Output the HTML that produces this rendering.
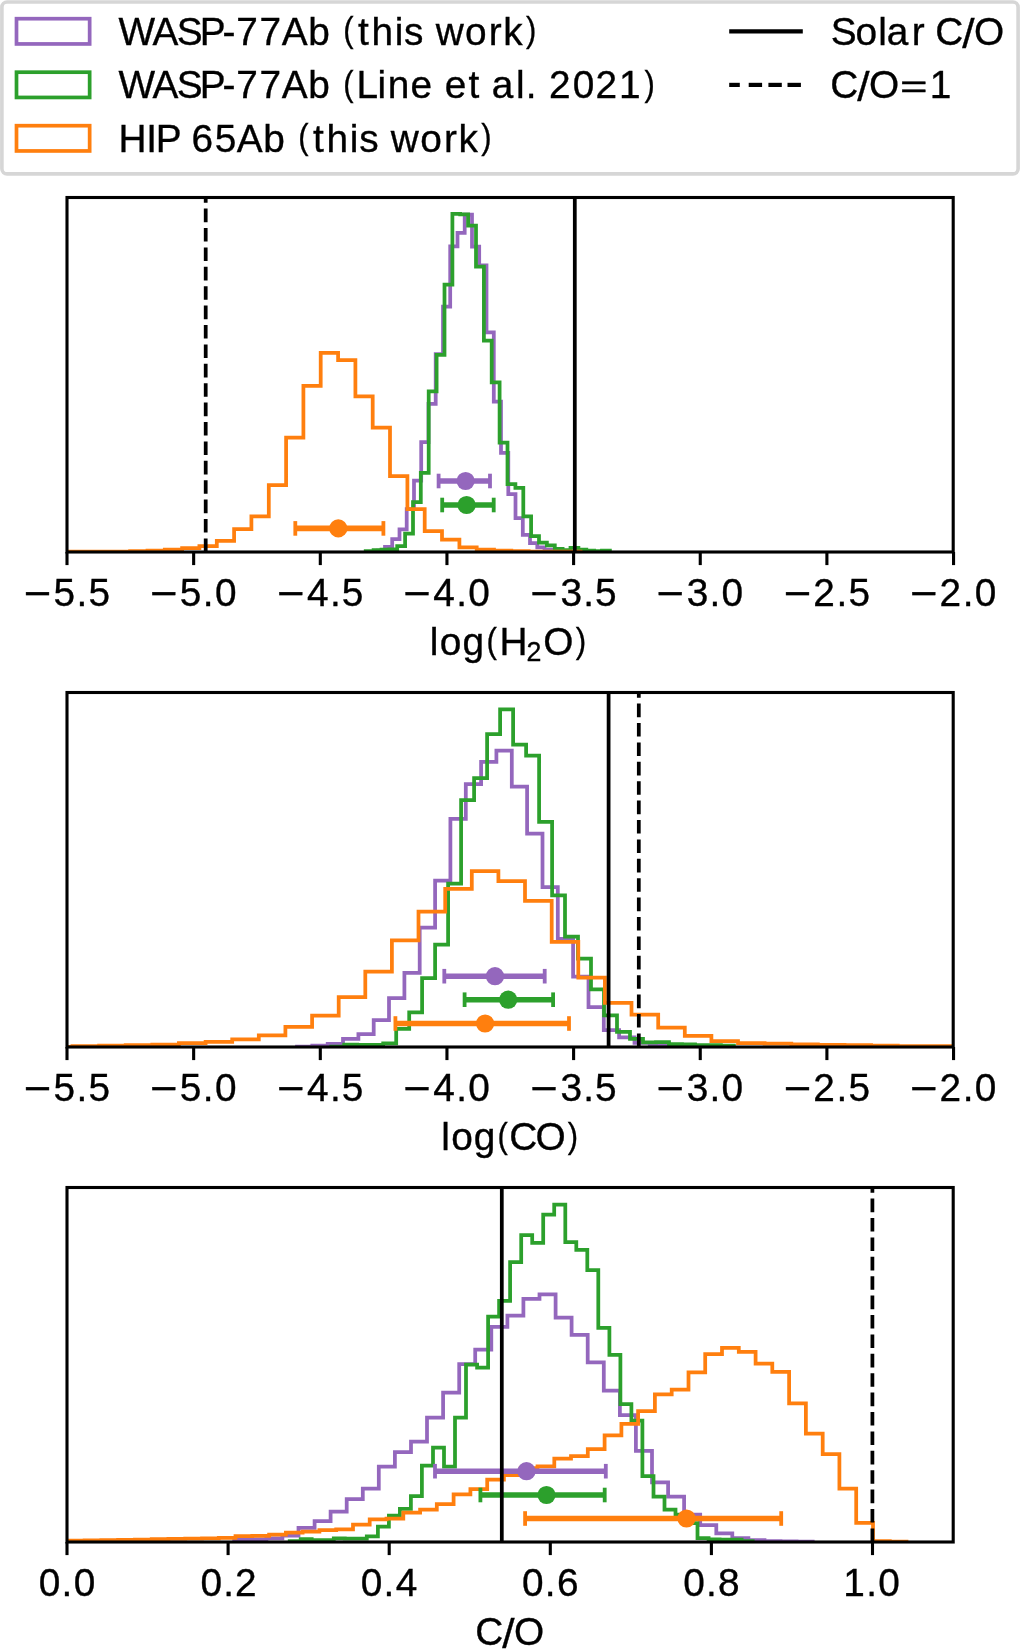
<!DOCTYPE html><html><head><meta charset="utf-8"><title>Histograms</title><style>html,body{margin:0;padding:0;background:#fff;}svg{display:block;will-change:transform;}text{font-family:"Liberation Sans",sans-serif;}</style></head><body><svg width="1020" height="1649" viewBox="0 0 1020 1649">
<rect width="1020" height="1649" fill="#fff"/>
<rect x="1.9" y="2.0" width="1016.2" height="171.9" rx="5.2" ry="5.2" fill="#fff" stroke="#d6d6d6" stroke-width="3.6"/>
<rect x="16.5" y="18.70" width="73.15" height="25.25" fill="none" stroke="#9467bd" stroke-width="3.7"/>
<rect x="16.5" y="72.20" width="73.15" height="25.25" fill="none" stroke="#2ca02c" stroke-width="3.7"/>
<rect x="16.5" y="125.70" width="73.15" height="25.25" fill="none" stroke="#ff7f0e" stroke-width="3.7"/>
<g font-family="Liberation Sans, sans-serif" fill="#000" stroke="#000" stroke-width="0.35">
<text font-size="38.80"><tspan x="118.42 152.40 176.74 199.79 222.49 236.32 259.61 281.69 308.21 330.39" y="44.60">WASP-77Ab </tspan><tspan x="343.25" y="42.18" font-size="34.99" textLength="10.30" lengthAdjust="spacingAndGlyphs">(</tspan><tspan x="357.99 371.49 394.64 404.11 423.09 435.66 465.07 488.81 503.27" y="44.60">this work</tspan><tspan x="526.04" y="42.18" font-size="34.99" textLength="10.30" lengthAdjust="spacingAndGlyphs">)</tspan></text>
<text font-size="38.80"><tspan x="118.42 152.40 176.74 199.79 222.49 236.32 259.61 281.69 308.21 330.39" y="98.10">WASP-77Ab </tspan><tspan x="343.25" y="95.68" font-size="34.99" textLength="10.30" lengthAdjust="spacingAndGlyphs">(</tspan><tspan x="356.46 377.49 387.75 410.60 432.58 444.76 468.42 481.08 491.75 515.92 525.72 536.95 548.94 572.71 595.51 619.08" y="98.10">Line et al. 2021</tspan><tspan x="644.47" y="95.68" font-size="34.99" textLength="10.30" lengthAdjust="spacingAndGlyphs">)</tspan></text>
<text font-size="38.80"><tspan x="118.39 146.18 155.66 179.04 191.52 214.66 236.81 263.33 285.51" y="151.60">HIP 65Ab </tspan><tspan x="298.37" y="149.18" font-size="34.99" textLength="10.30" lengthAdjust="spacingAndGlyphs">(</tspan><tspan x="313.11 326.61 349.77 359.23 378.21 390.78 420.19 443.93 458.39" y="151.60">this work</tspan><tspan x="481.16" y="149.18" font-size="34.99" textLength="10.30" lengthAdjust="spacingAndGlyphs">)</tspan></text>
<text font-size="38.80"><tspan x="830.67 855.45 878.20 886.63 911.78 925.07 935.26" y="44.60">Solar C</tspan><tspan x="962.26" y="47.60" font-size="40.96" textLength="12.33" lengthAdjust="spacingAndGlyphs">/</tspan><tspan x="973.91" y="44.60">O</tspan></text>
<text font-size="38.80"><tspan x="830.36" y="98.10">C</tspan><tspan x="857.36" y="101.10" font-size="40.96" textLength="12.33" lengthAdjust="spacingAndGlyphs">/</tspan><tspan x="869.01" y="98.10">O</tspan><tspan x="900.07" y="97.19" font-size="32.05" textLength="27.54" lengthAdjust="spacingAndGlyphs">=</tspan><tspan x="929.81" y="98.10">1</tspan></text>
</g>
<line x1="729.2" y1="31.4" x2="802.8" y2="31.4" stroke="#000" stroke-width="4.2"/>
<line x1="729.2" y1="84.9" x2="739.8" y2="84.9" stroke="#000" stroke-width="4.2"/>
<line x1="748.7" y1="84.9" x2="762.1" y2="84.9" stroke="#000" stroke-width="4.2"/>
<line x1="768.4" y1="84.9" x2="781.8" y2="84.9" stroke="#000" stroke-width="4.2"/>
<line x1="787.5" y1="84.9" x2="800.9" y2="84.9" stroke="#000" stroke-width="4.2"/>
<clipPath id="c197"><rect x="67.0" y="197.5" width="886.2" height="354.5"/></clipPath>
<g clip-path="url(#c197)" fill="none" stroke-width="3.75" stroke-linejoin="miter" stroke-linecap="butt">
<path d="M377.7,552.0V550.5H385.0V546.8H392.2V539.0H399.5V529.3H406.7V509.0H414.0V480.5H421.2V442.0H428.5V403.9H435.7V354.2H443.0V306.5H450.2V246.4H457.5V232.9H464.7V214.6H472.0V246.7H479.2V265.3H486.5V332.3H493.8V401.6H501.0V452.8H508.3V494.2H515.5V518.0H522.8V534.9H530.0V543.0H537.3V547.4H544.5V549.5H551.8V550.5H559.0V551.0H566.3V552.0" stroke="#9467bd"/>
<path d="M365.7,552.0V551.2H373.6V550.0H381.5V549.5H389.3V549.3H397.2V546.2H405.1V533.7H413.0V502.0H420.8V472.8H428.7V391.3H436.6V354.9H444.5V284.5H452.4V213.8H460.2V214.4H468.1V225.7H476.0V266.5H483.9V340.5H491.7V382.4H499.6V442.6H507.5V484.1H515.4V487.8H523.3V516.3H531.1V536.1H539.0V542.5H546.9V545.4H554.8V548.8H562.6V550.0H570.5V547.8H578.4V549.5H586.3V550.5H594.2V551.0H602.0V550.5H609.9V552.0" stroke="#2ca02c"/>
<path d="M60.8,552.0V551.6H78.2V551.6H95.5V551.6H112.8V551.6H130.1V551.0H147.5V550.5H164.8V549.5H182.1V548.2H199.4V546.0H216.8V540.8H234.1V529.2H251.4V516.3H268.8V485.0H286.1V437.5H303.4V385.9H320.7V352.9H338.1V360.2H355.4V396.3H372.7V427.6H390.0V476.2H407.4V509.0H424.7V531.0H442.0V539.6H459.4V547.4H476.7V549.5H494.0V550.5H511.3V551.2H528.7V551.5H546.0V551.5H563.3V551.5H580.6V552.0" stroke="#ff7f0e"/>
</g>
<g stroke="#9467bd" fill="#9467bd"><line x1="438.6" y1="481.0" x2="490.0" y2="481.0" stroke-width="5.6"/><line x1="438.6" y1="473.7" x2="438.6" y2="488.3" stroke-width="3.8"/><line x1="490.0" y1="473.7" x2="490.0" y2="488.3" stroke-width="3.8"/><circle cx="465.6" cy="481.0" r="9.1" stroke="none"/></g>
<g stroke="#2ca02c" fill="#2ca02c"><line x1="442.2" y1="505.0" x2="493.7" y2="505.0" stroke-width="5.6"/><line x1="442.2" y1="497.7" x2="442.2" y2="512.3" stroke-width="3.8"/><line x1="493.7" y1="497.7" x2="493.7" y2="512.3" stroke-width="3.8"/><circle cx="466.6" cy="505.0" r="9.1" stroke="none"/></g>
<g stroke="#ff7f0e" fill="#ff7f0e"><line x1="295.3" y1="528.4" x2="383.4" y2="528.4" stroke-width="5.6"/><line x1="295.3" y1="521.1" x2="295.3" y2="535.6999999999999" stroke-width="3.8"/><line x1="383.4" y1="521.1" x2="383.4" y2="535.6999999999999" stroke-width="3.8"/><circle cx="338.3" cy="528.4" r="9.1" stroke="none"/></g>
<path d="M205.7,552.0V197.5" stroke="#000" stroke-width="3.75" stroke-dasharray="13.6 5.8" fill="none"/>
<path d="M574.8,552.0V197.5" stroke="#000" stroke-width="3.75" fill="none"/>
<rect x="67.0" y="197.5" width="886.2" height="354.5" fill="none" stroke="#000" stroke-width="3.1"/>
<g stroke="#000" stroke-width="3.1">
<line x1="67.00" y1="552.0" x2="67.00" y2="565.1"/>
<line x1="193.65" y1="552.0" x2="193.65" y2="565.1"/>
<line x1="320.30" y1="552.0" x2="320.30" y2="565.1"/>
<line x1="446.95" y1="552.0" x2="446.95" y2="565.1"/>
<line x1="573.60" y1="552.0" x2="573.60" y2="565.1"/>
<line x1="700.25" y1="552.0" x2="700.25" y2="565.1"/>
<line x1="826.90" y1="552.0" x2="826.90" y2="565.1"/>
<line x1="953.55" y1="552.0" x2="953.55" y2="565.1"/>
</g>
<g font-family="Liberation Sans, sans-serif" fill="#000" stroke="#000" stroke-width="0.35">
<text font-size="38.80"><tspan x="23.78" y="608.30" font-size="42.62" textLength="27.54" lengthAdjust="spacingAndGlyphs">−</tspan><tspan x="53.59 76.59 88.51" y="605.60">5.5</tspan></text>
<text font-size="38.80"><tspan x="150.04" y="608.30" font-size="42.62" textLength="27.54" lengthAdjust="spacingAndGlyphs">−</tspan><tspan x="179.86 202.85 214.92" y="605.60">5.0</tspan></text>
<text font-size="38.80"><tspan x="277.08" y="608.30" font-size="42.62" textLength="27.54" lengthAdjust="spacingAndGlyphs">−</tspan><tspan x="307.03 329.89 341.81" y="605.60">4.5</tspan></text>
<text font-size="38.80"><tspan x="403.34" y="608.30" font-size="42.62" textLength="27.54" lengthAdjust="spacingAndGlyphs">−</tspan><tspan x="433.30 456.15 468.22" y="605.60">4.0</tspan></text>
<text font-size="38.80"><tspan x="530.38" y="608.30" font-size="42.62" textLength="27.54" lengthAdjust="spacingAndGlyphs">−</tspan><tspan x="560.39 583.19 595.11" y="605.60">3.5</tspan></text>
<text font-size="38.80"><tspan x="656.64" y="608.30" font-size="42.62" textLength="27.54" lengthAdjust="spacingAndGlyphs">−</tspan><tspan x="686.65 709.45 721.52" y="605.60">3.0</tspan></text>
<text font-size="38.80"><tspan x="783.68" y="608.30" font-size="42.62" textLength="27.54" lengthAdjust="spacingAndGlyphs">−</tspan><tspan x="813.15 836.49 848.41" y="605.60">2.5</tspan></text>
<text font-size="38.80"><tspan x="909.94" y="608.30" font-size="42.62" textLength="27.54" lengthAdjust="spacingAndGlyphs">−</tspan><tspan x="939.42 962.75 974.82" y="605.60">2.0</tspan></text>
<text font-size="38.80"><tspan x="429.84 439.76 462.51" y="655.00">log</tspan><tspan x="486.45" y="652.56" font-size="35.24" textLength="10.38" lengthAdjust="spacingAndGlyphs">(</tspan><tspan x="499.44" y="655.00">H</tspan></text>
<text font-size="26.77"><tspan x="526.46" y="660.90">2</tspan></text>
<text font-size="38.80"><tspan x="543.24" y="655.00">O</tspan><tspan x="575.70" y="652.55" font-size="35.46" textLength="10.44" lengthAdjust="spacingAndGlyphs">)</tspan></text>
</g>
<clipPath id="c692"><rect x="67.0" y="692.5" width="886.2" height="354.5"/></clipPath>
<g clip-path="url(#c692)" fill="none" stroke-width="3.75" stroke-linejoin="miter" stroke-linecap="butt">
<path d="M297.0,1047.0V1046.6H312.3V1045.5H327.7V1043.8H343.0V1038.8H358.4V1034.1H373.7V1020.0H389.0V998.2H404.4V972.9H419.7V927.6H435.1V880.6H450.4V818.8H465.8V784.1H481.1V761.8H496.4V750.6H511.8V786.6H527.1V833.5H542.5V887.1H557.8V938.8H573.1V976.5H588.5V1007.1H603.8V1030.0H619.1V1037.3H634.5V1042.9H649.8V1044.5H665.2V1045.5H680.5V1047.0" stroke="#9467bd"/>
<path d="M331.2,1047.0V1046.6H344.2V1044.6H357.2V1044.8H370.2V1044.8H383.2V1043.3H396.2V1028.8H409.2V1012.4H422.1V978.2H435.1V944.7H448.1V883.5H461.1V800.0H474.1V778.2H487.1V734.1H500.1V709.4H513.1V744.6H526.1V755.6H539.1V821.8H552.1V895.3H565.0V936.5H578.0V958.6H591.0V989.4H604.0V1015.3H617.0V1031.8H630.0V1038.8H643.0V1042.4H656.0V1042.0H669.0V1044.0H682.0V1044.3H695.0V1045.0H707.9V1045.0H720.9V1045.5H733.9V1047.0" stroke="#2ca02c"/>
<path d="M45.8,1047.0V1046.8H72.4V1046.2H99.1V1045.5H125.7V1045.0H152.3V1044.5H178.9V1043.1H205.6V1041.8H232.2V1039.3H258.8V1035.3H285.4V1026.9H312.1V1015.7H338.7V997.0H365.3V971.7H391.9V940.4H418.5V911.6H445.2V888.8H471.8V871.2H498.4V881.2H525.0V900.9H551.7V941.8H578.3V977.6H604.9V1002.9H631.5V1014.6H658.2V1027.6H684.8V1035.9H711.4V1041.2H738.0V1043.2H764.6V1043.5H791.3V1044.3H817.9V1044.8H844.5V1045.0H871.1V1045.5H897.8V1046.0H924.4V1046.0H951.0V1047.0" stroke="#ff7f0e"/>
</g>
<g stroke="#9467bd" fill="#9467bd"><line x1="444.3" y1="976.2" x2="544.7" y2="976.2" stroke-width="5.6"/><line x1="444.3" y1="968.9000000000001" x2="444.3" y2="983.5" stroke-width="3.8"/><line x1="544.7" y1="968.9000000000001" x2="544.7" y2="983.5" stroke-width="3.8"/><circle cx="495.0" cy="976.2" r="9.1" stroke="none"/></g>
<g stroke="#2ca02c" fill="#2ca02c"><line x1="464.6" y1="999.7" x2="553.1" y2="999.7" stroke-width="5.6"/><line x1="464.6" y1="992.4000000000001" x2="464.6" y2="1007.0" stroke-width="3.8"/><line x1="553.1" y1="992.4000000000001" x2="553.1" y2="1007.0" stroke-width="3.8"/><circle cx="508.2" cy="999.7" r="9.1" stroke="none"/></g>
<g stroke="#ff7f0e" fill="#ff7f0e"><line x1="395.4" y1="1023.5" x2="569.0" y2="1023.5" stroke-width="5.6"/><line x1="395.4" y1="1016.2" x2="395.4" y2="1030.8" stroke-width="3.8"/><line x1="569.0" y1="1016.2" x2="569.0" y2="1030.8" stroke-width="3.8"/><circle cx="485.1" cy="1023.5" r="9.1" stroke="none"/></g>
<path d="M608.6,1047.0V692.5" stroke="#000" stroke-width="3.75" fill="none"/>
<path d="M638.8,1047.0V692.5" stroke="#000" stroke-width="3.75" stroke-dasharray="13.6 5.8" fill="none"/>
<rect x="67.0" y="692.5" width="886.2" height="354.5" fill="none" stroke="#000" stroke-width="3.1"/>
<g stroke="#000" stroke-width="3.1">
<line x1="67.00" y1="1047.0" x2="67.00" y2="1060.1"/>
<line x1="193.65" y1="1047.0" x2="193.65" y2="1060.1"/>
<line x1="320.30" y1="1047.0" x2="320.30" y2="1060.1"/>
<line x1="446.95" y1="1047.0" x2="446.95" y2="1060.1"/>
<line x1="573.60" y1="1047.0" x2="573.60" y2="1060.1"/>
<line x1="700.25" y1="1047.0" x2="700.25" y2="1060.1"/>
<line x1="826.90" y1="1047.0" x2="826.90" y2="1060.1"/>
<line x1="953.55" y1="1047.0" x2="953.55" y2="1060.1"/>
</g>
<g font-family="Liberation Sans, sans-serif" fill="#000" stroke="#000" stroke-width="0.35">
<text font-size="38.80"><tspan x="23.78" y="1103.30" font-size="42.62" textLength="27.54" lengthAdjust="spacingAndGlyphs">−</tspan><tspan x="53.59 76.59 88.51" y="1100.60">5.5</tspan></text>
<text font-size="38.80"><tspan x="150.04" y="1103.30" font-size="42.62" textLength="27.54" lengthAdjust="spacingAndGlyphs">−</tspan><tspan x="179.86 202.85 214.92" y="1100.60">5.0</tspan></text>
<text font-size="38.80"><tspan x="277.08" y="1103.30" font-size="42.62" textLength="27.54" lengthAdjust="spacingAndGlyphs">−</tspan><tspan x="307.03 329.89 341.81" y="1100.60">4.5</tspan></text>
<text font-size="38.80"><tspan x="403.34" y="1103.30" font-size="42.62" textLength="27.54" lengthAdjust="spacingAndGlyphs">−</tspan><tspan x="433.30 456.15 468.22" y="1100.60">4.0</tspan></text>
<text font-size="38.80"><tspan x="530.38" y="1103.30" font-size="42.62" textLength="27.54" lengthAdjust="spacingAndGlyphs">−</tspan><tspan x="560.39 583.19 595.11" y="1100.60">3.5</tspan></text>
<text font-size="38.80"><tspan x="656.64" y="1103.30" font-size="42.62" textLength="27.54" lengthAdjust="spacingAndGlyphs">−</tspan><tspan x="686.65 709.45 721.52" y="1100.60">3.0</tspan></text>
<text font-size="38.80"><tspan x="783.68" y="1103.30" font-size="42.62" textLength="27.54" lengthAdjust="spacingAndGlyphs">−</tspan><tspan x="813.15 836.49 848.41" y="1100.60">2.5</tspan></text>
<text font-size="38.80"><tspan x="909.94" y="1103.30" font-size="42.62" textLength="27.54" lengthAdjust="spacingAndGlyphs">−</tspan><tspan x="939.42 962.75 974.82" y="1100.60">2.0</tspan></text>
<text font-size="38.80"><tspan x="441.36 451.17 473.76" y="1150.00">log</tspan><tspan x="497.61" y="1147.58" font-size="34.99" textLength="10.30" lengthAdjust="spacingAndGlyphs">(</tspan><tspan x="509.22 535.54" y="1150.00">CO</tspan><tspan x="567.78" y="1147.58" font-size="34.99" textLength="10.30" lengthAdjust="spacingAndGlyphs">)</tspan></text>
</g>
<clipPath id="c1187"><rect x="67.0" y="1187.5" width="886.2" height="354.5"/></clipPath>
<g clip-path="url(#c1187)" fill="none" stroke-width="3.75" stroke-linejoin="miter" stroke-linecap="butt">
<path d="M234.2,1542.0V1539.5H250.3V1539.3H266.4V1538.3H282.4V1535.5H298.5V1527.9H314.6V1521.1H330.6V1511.7H346.7V1499.0H362.8V1488.7H378.8V1466.7H394.9V1452.0H411.0V1441.7H427.0V1417.6H443.1V1392.6H459.2V1364.2H475.2V1349.5H491.3V1326.8H507.4V1315.6H523.4V1298.8H539.5V1294.4H555.6V1317.5H571.6V1334.8H587.7V1362.3H603.8V1390.5H619.9V1415.1H635.9V1450.8H652.0V1482.3H668.1V1496.6H684.1V1514.5H700.2V1525.1H716.3V1533.3H732.3V1538.0H748.4V1540.0H764.5V1541.0H780.5V1541.4H796.6V1541.6H812.7V1542.0" stroke="#9467bd"/>
<path d="M289.7,1542.0V1541.0H300.7V1539.0H311.7V1540.0H322.7V1540.0H333.8V1538.3H344.8V1538.5H355.8V1538.5H366.8V1536.3H377.9V1526.5H388.9V1515.7H399.9V1508.8H410.9V1496.1H421.9V1465.6H433.0V1447.6H444.0V1466.5H455.0V1417.6H466.0V1364.7H477.1V1367.6H488.1V1316.7H499.1V1300.8H510.1V1262.1H521.2V1235.1H532.2V1242.9H543.2V1214.5H554.2V1204.7H565.3V1242.0H576.3V1249.8H587.3V1270.0H598.3V1327.9H609.4V1354.9H620.4V1404.2H631.4V1420.7H642.4V1476.2H653.5V1496.6H664.5V1509.6H675.5V1514.7H686.5V1523.0H697.5V1538.2H708.6V1539.3H719.6V1539.5H730.6V1539.5H741.6V1541.0H752.7V1542.0" stroke="#2ca02c"/>
<path d="M51.0,1542.0V1540.6H67.8V1540.5H84.6V1540.3H101.3V1540.0H118.1V1539.8H134.9V1539.5H151.7V1539.0H168.4V1538.8H185.2V1538.5H202.0V1538.3H218.8V1537.8H235.5V1536.2H252.3V1535.8H269.1V1534.5H285.9V1532.7H302.6V1531.5H319.4V1530.0H336.2V1529.4H353.0V1524.5H369.7V1519.4H386.5V1518.6H403.3V1512.7H420.1V1509.5H436.8V1504.1H453.6V1494.4H470.4V1489.1H487.2V1479.6H503.9V1475.1H520.7V1468.0H537.5V1466.3H554.3V1458.5H571.0V1456.0H587.8V1449.1H604.6V1435.3H621.4V1423.8H638.1V1411.1H654.9V1394.3H671.7V1389.6H688.5V1372.4H705.2V1354.1H722.0V1347.9H738.8V1351.8H755.6V1363.5H772.3V1371.8H789.1V1403.3H805.9V1433.5H822.7V1454.1H839.4V1488.6H856.2V1522.9H873.0V1541.2H889.8V1541.5H906.5V1542.0" stroke="#ff7f0e"/>
</g>
<g stroke="#9467bd" fill="#9467bd"><line x1="435.0" y1="1471.2" x2="605.8" y2="1471.2" stroke-width="5.6"/><line x1="435.0" y1="1463.9" x2="435.0" y2="1478.5" stroke-width="3.8"/><line x1="605.8" y1="1463.9" x2="605.8" y2="1478.5" stroke-width="3.8"/><circle cx="526.5" cy="1471.2" r="9.1" stroke="none"/></g>
<g stroke="#2ca02c" fill="#2ca02c"><line x1="480.4" y1="1495.0" x2="604.7" y2="1495.0" stroke-width="5.6"/><line x1="480.4" y1="1487.7" x2="480.4" y2="1502.3" stroke-width="3.8"/><line x1="604.7" y1="1487.7" x2="604.7" y2="1502.3" stroke-width="3.8"/><circle cx="546.5" cy="1495.0" r="9.1" stroke="none"/></g>
<g stroke="#ff7f0e" fill="#ff7f0e"><line x1="525.1" y1="1518.5" x2="781.2" y2="1518.5" stroke-width="5.6"/><line x1="525.1" y1="1511.2" x2="525.1" y2="1525.8" stroke-width="3.8"/><line x1="781.2" y1="1511.2" x2="781.2" y2="1525.8" stroke-width="3.8"/><circle cx="686.5" cy="1518.5" r="9.1" stroke="none"/></g>
<path d="M501.8,1542.0V1187.5" stroke="#000" stroke-width="3.75" fill="none"/>
<path d="M872.4,1542.0V1187.5" stroke="#000" stroke-width="3.75" stroke-dasharray="13.6 5.8" fill="none"/>
<rect x="67.0" y="1187.5" width="886.2" height="354.5" fill="none" stroke="#000" stroke-width="3.1"/>
<g stroke="#000" stroke-width="3.1">
<line x1="67.00" y1="1542.0" x2="67.00" y2="1555.1"/>
<line x1="228.10" y1="1542.0" x2="228.10" y2="1555.1"/>
<line x1="389.20" y1="1542.0" x2="389.20" y2="1555.1"/>
<line x1="550.30" y1="1542.0" x2="550.30" y2="1555.1"/>
<line x1="711.40" y1="1542.0" x2="711.40" y2="1555.1"/>
<line x1="872.50" y1="1542.0" x2="872.50" y2="1555.1"/>
</g>
<g font-family="Liberation Sans, sans-serif" fill="#000" stroke="#000" stroke-width="0.35">
<text font-size="38.80"><tspan x="38.75 61.60 73.67" y="1595.60">0.0</tspan></text>
<text font-size="38.80"><tspan x="200.47 223.32 234.90" y="1595.60">0.2</tspan></text>
<text font-size="38.80"><tspan x="360.76 383.61 395.68" y="1595.60">0.4</tspan></text>
<text font-size="38.80"><tspan x="521.99 544.84 556.91" y="1595.60">0.6</tspan></text>
<text font-size="38.80"><tspan x="683.19 706.04 718.11" y="1595.60">0.8</tspan></text>
<text font-size="38.80"><tspan x="843.25 866.30 878.37" y="1595.60">1.0</tspan></text>
<text font-size="38.80"><tspan x="475.31" y="1645.10">C</tspan><tspan x="502.31" y="1648.10" font-size="40.96" textLength="12.33" lengthAdjust="spacingAndGlyphs">/</tspan><tspan x="513.96" y="1645.10">O</tspan></text>
</g>
</svg></body></html>
